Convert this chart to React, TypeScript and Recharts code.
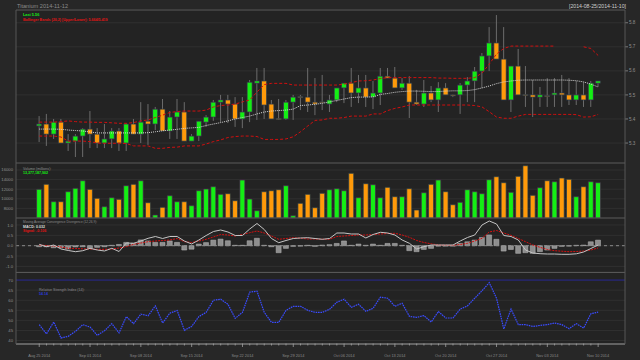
import React from "react";
import {
  Bar,
  CartesianGrid,
  Cell,
  ComposedChart,
  Line,
  ReferenceLine,
  XAxis,
  YAxis,
} from "recharts";

// daily OHLC, Aug 25 2014 .. Nov 10 2014 (78 days)
const opens = [5.371,5.379,5.337,5.387,5.300,5.308,5.329,5.358,5.337,5.300,5.317,5.350,5.300,5.379,5.337,5.391,5.379,5.441,5.350,5.408,5.429,5.308,5.329,5.387,5.408,5.470,5.479,5.462,5.400,5.429,5.549,5.558,5.462,5.402,5.400,5.470,5.493,5.491,5.470,5.471,5.462,5.479,5.529,5.549,5.508,5.529,5.491,5.508,5.578,5.570,5.529,5.549,5.470,5.462,5.508,5.479,5.529,5.500,5.500,5.541,5.558,5.599,5.662,5.716,5.649,5.479,5.620,5.501,5.500,5.491,5.497,5.500,5.508,5.500,5.479,5.500,5.479,5.549];
const highs = [5.412,5.421,5.400,5.400,5.337,5.337,5.362,5.433,5.362,5.379,5.362,5.362,5.383,5.400,5.470,5.462,5.450,5.483,5.433,5.483,5.470,5.337,5.391,5.416,5.479,5.500,5.500,5.491,5.491,5.562,5.612,5.612,5.479,5.483,5.479,5.500,5.500,5.612,5.570,5.583,5.500,5.529,5.549,5.612,5.583,5.583,5.558,5.612,5.612,5.616,5.570,5.578,5.521,5.562,5.537,5.553,5.549,5.501,5.549,5.574,5.616,5.674,5.782,5.832,5.782,5.620,5.691,5.620,5.562,5.533,5.570,5.570,5.583,5.570,5.558,5.553,5.558,5.558];
const lows = [5.304,5.288,5.317,5.300,5.267,5.242,5.242,5.279,5.279,5.279,5.279,5.267,5.267,5.337,5.300,5.292,5.354,5.350,5.317,5.317,5.308,5.308,5.308,5.367,5.392,5.387,5.383,5.367,5.362,5.387,5.396,5.400,5.400,5.396,5.396,5.396,5.437,5.429,5.416,5.437,5.429,5.470,5.466,5.450,5.466,5.450,5.441,5.458,5.570,5.529,5.521,5.404,5.458,5.450,5.470,5.429,5.500,5.491,5.421,5.470,5.470,5.529,5.599,5.649,5.479,5.429,5.500,5.450,5.408,5.450,5.450,5.450,5.450,5.458,5.458,5.450,5.450,5.533];
const closes = [5.379,5.337,5.387,5.300,5.308,5.329,5.358,5.337,5.300,5.317,5.350,5.300,5.379,5.337,5.387,5.379,5.441,5.350,5.408,5.429,5.308,5.329,5.391,5.408,5.470,5.479,5.462,5.400,5.429,5.553,5.558,5.458,5.400,5.400,5.470,5.491,5.491,5.470,5.462,5.469,5.479,5.529,5.549,5.508,5.529,5.491,5.508,5.578,5.570,5.529,5.549,5.470,5.462,5.508,5.479,5.529,5.500,5.496,5.541,5.558,5.599,5.662,5.716,5.649,5.479,5.620,5.500,5.499,5.491,5.500,5.495,5.508,5.500,5.479,5.500,5.479,5.549,5.558];
const volumes = [11980,13021,9397,9397,11480,12188,13771,11980,10105,8355,10230,9897,12730,13021,13771,9189,6627,8230,10647,9397,9397,8564,11688,12042,12521,10938,11063,9605,13917,9959,7522,11480,11688,11896,12730,6481,9064,10938,8147,11147,11896,12105,11688,15313,10230,13146,12938,10230,12396,10439,10439,12105,7668,11272,13021,13917,11480,8772,9272,11896,11480,11063,13979,14604,13355,11355,14688,16896,10730,12313,13771,13563,14334,14063,10439,12521,13563,13355];

// Bollinger bands (20,2)
const bbUpper = [5.387,5.387,5.387,5.389,5.392,5.389,5.387,5.387,5.386,5.386,5.384,5.382,5.382,5.385,5.392,5.396,5.406,5.416,5.427,5.431,5.433,5.433,5.433,5.437,5.450,5.456,5.458,5.462,5.471,5.479,5.512,5.543,5.548,5.548,5.548,5.541,5.541,5.541,5.541,5.541,5.541,5.541,5.545,5.551,5.558,5.559,5.562,5.568,5.572,5.572,5.572,5.572,5.572,5.572,5.572,5.570,5.570,5.569,5.569,5.569,5.572,5.591,5.628,5.670,5.693,5.703,5.703,5.703,5.703,5.703,5.703,5.703,null,null,null,5.700,5.693,5.664];
const bbMid = [5.358,5.358,5.358,5.357,5.354,5.352,5.350,5.346,5.342,5.342,5.342,5.342,5.342,5.342,5.342,5.343,5.347,5.351,5.354,5.357,5.361,5.363,5.365,5.373,5.379,5.385,5.392,5.400,5.406,5.412,5.421,5.429,5.433,5.435,5.437,5.441,5.456,5.458,5.461,5.465,5.471,5.477,5.483,5.489,5.491,5.491,5.492,5.502,5.506,5.511,5.514,5.516,5.516,5.515,5.514,5.514,5.516,5.517,5.517,5.518,5.522,5.529,5.537,5.547,5.554,5.558,5.561,5.562,5.562,5.562,5.562,5.562,5.562,5.561,5.559,5.554,5.545,5.533];
const bbLower = [5.329,5.329,5.329,5.325,5.308,5.308,5.308,5.306,5.300,5.299,5.299,5.299,5.298,5.288,5.288,5.288,5.278,5.278,5.282,5.283,5.288,5.288,5.288,5.296,5.306,5.313,5.323,5.327,5.329,5.329,5.327,5.315,5.315,5.315,5.317,5.326,5.347,5.371,5.394,5.396,5.403,5.403,5.406,5.412,5.412,5.412,5.421,5.421,5.435,5.444,5.450,5.458,5.458,5.458,5.458,5.458,5.458,5.458,5.458,5.458,5.456,5.450,5.430,5.408,5.403,5.403,5.412,5.419,5.419,5.419,5.419,5.419,5.419,5.419,5.418,5.408,5.409,5.419];

// MACD (12,26,9), percent
const macdLine = [0.068,-0.048,0.034,-0.160,-0.232,-0.290,-0.242,-0.126,-0.208,-0.256,-0.126,-0.281,0.131,0.116,0.227,0.358,0.445,0.348,0.445,0.445,0.227,0.082,0.276,0.493,0.687,0.760,0.663,0.493,0.493,0.808,1.074,0.784,0.348,0.145,0.252,0.348,0.373,0.387,0.348,0.310,0.348,0.614,0.614,0.566,0.566,0.373,0.542,0.648,0.614,0.518,0.276,0.116,-0.160,-0.048,0.034,0.034,0.034,0.034,0.227,0.397,0.518,1.001,1.195,1.050,0.493,0.445,0.276,-0.208,-0.353,-0.387,-0.402,-0.402,-0.416,-0.416,-0.392,-0.305,-0.135,0.032];
const macdSignal = [0.034,0.010,-0.015,-0.063,-0.126,-0.135,-0.150,-0.160,-0.174,-0.174,-0.160,-0.111,-0.048,0.068,0.131,0.194,0.227,0.252,0.276,0.348,0.194,0.155,0.227,0.310,0.421,0.542,0.518,0.469,0.542,0.629,0.711,0.614,0.469,0.310,0.348,0.387,0.363,0.324,0.324,0.314,0.310,0.445,0.469,0.493,0.518,0.518,0.542,0.566,0.590,0.600,0.518,0.406,0.252,0.155,0.092,0.034,0.024,0.019,0.058,0.116,0.227,0.358,0.663,0.735,0.614,0.503,0.348,0.194,0.034,-0.077,-0.184,-0.242,-0.266,-0.290,-0.281,-0.256,-0.208,-0.106];
const macdHist = [-0.05,-0.05,-0.10,-0.10,-0.16,-0.06,-0.05,-0.13,-0.08,-0.05,0.02,0.06,0.16,0.12,0.28,0.23,0.16,0.16,0.23,0.16,-0.21,-0.17,0.08,0.15,0.27,0.32,0.24,0.02,0.02,0.24,0.36,0.02,-0.05,-0.34,-0.13,-0.03,-0.02,0.02,-0.03,0.03,0.05,0.11,0.23,0.02,0.08,0.02,0.08,0.02,0.11,0.11,0.02,-0.24,-0.29,-0.18,-0.13,-0.02,-0.02,-0.02,0.11,0.19,0.27,0.40,0.52,0.31,-0.26,-0.18,-0.37,-0.34,-0.37,-0.29,-0.21,-0.13,-0.03,-0.02,0.02,0.03,0.19,0.27];

// RSI (14)
const rsi = [47.9,43.3,49.2,41.3,42.1,44.6,47.9,46.7,42.6,44.9,48.4,43.8,51.9,48.4,53.1,52.3,57.2,48.7,53.6,54.9,45.1,47.0,51.9,54.0,60.0,60.5,58.0,51.0,54.0,64.0,64.5,54.0,49.0,49.0,55.0,57.0,57.0,55.0,54.0,54.0,55.5,59.0,60.5,56.5,58.0,54.5,56.0,61.5,61.0,57.0,58.5,52.0,51.5,52.4,49.2,54.4,51.2,51.2,55.6,57.2,61.0,64.7,68.7,61.0,45.8,55.6,47.9,47.9,47.0,47.5,47.9,48.7,47.9,45.9,48.4,46.2,53.3,54.1];

const dateLabels = ["Aug 25 2014","Sep 01 2014","Sep 08 2014","Sep 15 2014","Sep 22 2014","Sep 29 2014","Oct 06 2014","Oct 13 2014","Oct 20 2014","Oct 27 2014","Nov 03 2014","Nov 10 2014"];
const priceTicks = [5.3, 5.4, 5.5, 5.6, 5.7, 5.8];
const volumeTicks = [8000, 10000, 12000, 14000, 16000];
const macdTicks = [-1, -0.5, 0, 0.5, 1];
const rsiTicks = [40, 45, 50, 55, 60, 65, 70];

const rows = opens.map((o, i) => ({
  i,
  open: o,
  high: highs[i],
  low: lows[i],
  close: closes[i],
  volume: volumes[i],
  bbUpper: bbUpper[i],
  bbMid: bbMid[i],
  bbLower: bbLower[i],
  macd: macdLine[i],
  signal: macdSignal[i],
  hist: macdHist[i],
  rsi: rsi[i],
}));
const dayTicks = rows.map((r) => r.i);

const FONT = "'Liberation Sans', Arial, sans-serif";
const GREEN = "#14ee14";
const ORANGE = "#ff9a0a";
const OUTER = "#272727";
const PLOT = "#232323";
const GRID = "#303030";
const FRAME = "#575757";
const XDOMAIN: [number, number] = [-3.2, 80.7];
const tickStyle = { fontSize: 4.2, fill: "#8f8f8f", fontFamily: FONT };

function Candle(props: any) {
  const { x, y, width, height, payload } = props;
  if (x == null || payload == null) return null;
  const { open, close, high, low } = payload;
  const up = close > open;
  const top0 = height >= 0 ? y : y + height;
  const h = Math.abs(height);
  const ppu = h / (high - low);
  const cx = x + width / 2;
  const bTop = top0 + (high - Math.max(open, close)) * ppu;
  const bBot = top0 + (high - Math.min(open, close)) * ppu;
  return (
    <g>
      <line x1={cx} x2={cx} y1={top0} y2={top0 + h} stroke="#6c6c6c" strokeWidth={1} />
      <rect
        x={x}
        y={bTop}
        width={width}
        height={Math.max(1, bBot - bTop)}
        fill={up ? GREEN : ORANGE}
        stroke={up ? "#3e2650" : "#26394e"}
        strokeWidth={0.7}
      />
    </g>
  );
}

function DayTick(props: any) {
  const { x, y, payload } = props;
  const i = payload.value;
  const major = i % 7 === 0;
  return (
    <g>
      <line x1={x} x2={x} y1={y - 0.5} y2={y + (major ? 3 : 1.5)} stroke="#a0a0a0" strokeWidth={0.8} />
      {major && (
        <text x={x} y={y + 12.5} textAnchor="middle" fontSize={3.9} fill="#8a8a8a" fontFamily={FONT}>
          {dateLabels[i / 7]}
        </text>
      )}
    </g>
  );
}

export default function App() {
  return (
    <div style={{ position: "fixed", left: 0, top: 0, width: 640, height: 360, background: OUTER, overflow: "hidden" }}>
      {/* price + bollinger */}
      <div style={{ position: "absolute", left: 0, top: 10 }}>
        <ComposedChart width={640} height={153} data={rows} margin={{ top: 0, right: 0, bottom: 0, left: 16 }}>
          <CartesianGrid vertical={false} stroke={GRID} fill={PLOT} />
          <XAxis type="number" dataKey="i" domain={XDOMAIN} hide allowDataOverflow />
          <YAxis
            orientation="right"
            width={15}
            domain={[5.217, 5.853]}
            ticks={priceTicks}
            interval={0}
            allowDataOverflow
            axisLine={false}
            tickSize={3}
            tickMargin={1}
            tickLine={{ stroke: "#777" }}
            tick={{ ...tickStyle, fontSize: 4.6 }}
            tickFormatter={(v: number) => v.toFixed(1)}
          />
          <Line dataKey="bbUpper" stroke="#d10f0f" strokeWidth={1} strokeDasharray="3 2" dot={false} isAnimationActive={false} />
          <Line dataKey="bbLower" stroke="#d10f0f" strokeWidth={1} strokeDasharray="3 2" dot={false} isAnimationActive={false} />
          <Line dataKey="bbMid" stroke="#d6d6d6" strokeWidth={1} strokeDasharray="1 1" dot={false} isAnimationActive={false} />
          <Bar dataKey={(r: any) => [r.low, r.high]} barSize={5} shape={Candle} isAnimationActive={false} />
        </ComposedChart>
      </div>

      {/* volume */}
      <div style={{ position: "absolute", left: 0, top: 163 }}>
        <ComposedChart width={640} height={55} data={rows} margin={{ top: 0, right: 15, bottom: 0, left: 0 }}>
          <CartesianGrid vertical={false} stroke={GRID} fill={PLOT} />
          <XAxis type="number" dataKey="i" domain={XDOMAIN} hide allowDataOverflow />
          <YAxis
            width={16}
            domain={[6000, 17460]}
            ticks={volumeTicks}
            interval={0}
            allowDataOverflow
            axisLine={false}
            tickLine={false}
            tickSize={0}
            tickMargin={3}
            tick={tickStyle}
          />
          <Bar dataKey="volume" barSize={5} isAnimationActive={false}>
            {rows.map((r) => (
              <Cell
                key={r.i}
                fill={r.close > r.open ? GREEN : ORANGE}
                stroke={r.close > r.open ? "#4a2050" : "#203a4a"}
                strokeWidth={0.7}
              />
            ))}
          </Bar>
        </ComposedChart>
      </div>

      {/* MACD */}
      <div style={{ position: "absolute", left: 0, top: 218 }}>
        <ComposedChart width={640} height={54} data={rows} margin={{ top: 0, right: 15, bottom: 0, left: 0 }}>
          <CartesianGrid vertical={false} stroke={GRID} fill={PLOT} />
          <XAxis type="number" dataKey="i" domain={XDOMAIN} hide allowDataOverflow />
          <YAxis
            width={16}
            domain={[-1.272, 1.34]}
            ticks={macdTicks}
            interval={0}
            allowDataOverflow
            axisLine={false}
            tickLine={false}
            tickSize={0}
            tickMargin={3}
            tick={tickStyle}
            tickFormatter={(v: number) => v.toFixed(1)}
          />
          <ReferenceLine y={0} stroke="#8a8a8a" strokeDasharray="3 3" />
          <Bar dataKey="hist" barSize={5} fill="#8e8e8e" stroke="#b8b8b8" strokeWidth={0.5} isAnimationActive={false} />
          <Line dataKey="signal" stroke="#d41010" strokeWidth={1} strokeDasharray="2 1" dot={false} isAnimationActive={false} />
          <Line dataKey="macd" stroke="#c4c4c4" strokeWidth={1} dot={false} isAnimationActive={false} />
        </ComposedChart>
      </div>

      {/* RSI + date axis */}
      <div style={{ position: "absolute", left: 0, top: 272 }}>
        <ComposedChart width={640} height={88} data={rows} margin={{ top: 0, right: 15, bottom: 0, left: 0 }}>
          <CartesianGrid vertical={false} stroke={GRID} fill={PLOT} />
          <XAxis
            type="number"
            dataKey="i"
            domain={XDOMAIN}
            allowDataOverflow
            ticks={dayTicks}
            interval={0}
            height={16}
            tickSize={0}
            tickMargin={0}
            tickLine={false}
            axisLine={{ stroke: "#9c9c9c", strokeWidth: 1.2 }}
            tick={<DayTick />}
          />
          <YAxis
            width={16}
            domain={[38.3, 74]}
            ticks={rsiTicks}
            interval={0}
            allowDataOverflow
            axisLine={false}
            tickLine={false}
            tickSize={0}
            tickMargin={3}
            tick={tickStyle}
          />
          <ReferenceLine y={70} stroke="#22228f" strokeWidth={1} />
          <Line dataKey="rsi" stroke="#3a4cff" strokeWidth={1.2} strokeDasharray="1.6 0.8" dot={false} isAnimationActive={false} />
        </ComposedChart>
      </div>

      {/* frame and legend texts */}
      <svg width={640} height={360} style={{ position: "absolute", left: 0, top: 0, pointerEvents: "none" }} fontFamily={FONT}>
        <line x1={16} x2={625} y1={10} y2={10} stroke={FRAME} />
        <line x1={16} x2={625} y1={163} y2={163} stroke={FRAME} />
        <line x1={16} x2={625} y1={218} y2={218} stroke={FRAME} />
        <line x1={16} x2={625} y1={272.5} y2={272.5} stroke={FRAME} />
        <line x1={16} x2={16} y1={10} y2={344} stroke={FRAME} />
        <line x1={625} x2={625} y1={10} y2={344} stroke={FRAME} />

        <text x={17} y={7.5} fontSize={5.6} fill="#8c8c8c">Titanium 2014-11-12</text>
        <text x={626} y={7.5} fontSize={5.2} fill="#d0d0d0" textAnchor="end">[2014-08-25/2014-11-10]</text>

        <text x={23} y={15.5} fontSize={3.8} fontWeight="bold" fill={GREEN}>Last 5.56</text>
        <text x={23} y={20.5} fontSize={3.6} fontWeight="bold" fill="#e01414">Bollinger Bands (20,2) [Upper/Lower]: 5.664/5.419</text>

        <text x={23} y={169.5} fontSize={3.6} fill="#8c8c8c">Volume (millions):</text>
        <text x={23} y={174} fontSize={3.6} fontWeight="bold" fill={GREEN}>13,377,187,902</text>

        <text x={23} y={223} fontSize={3.2} fill="#8c8c8c">Moving Average Convergence Divergence (12,26,9):</text>
        <text x={23} y={227.5} fontSize={3.6} fontWeight="bold" fill="#dcdcdc">MACD: 0.032</text>
        <text x={23} y={231.5} fontSize={3.6} fontWeight="bold" fill="#e01414">Signal: -0.106</text>

        <text x={39} y={290.5} fontSize={3.6} fill="#8c8c8c">Relative Strength Index (14):</text>
        <text x={39} y={295} fontSize={3.6} fontWeight="bold" fill="#2a3ad8">54.14</text>
      </svg>
    </div>
  );
}
